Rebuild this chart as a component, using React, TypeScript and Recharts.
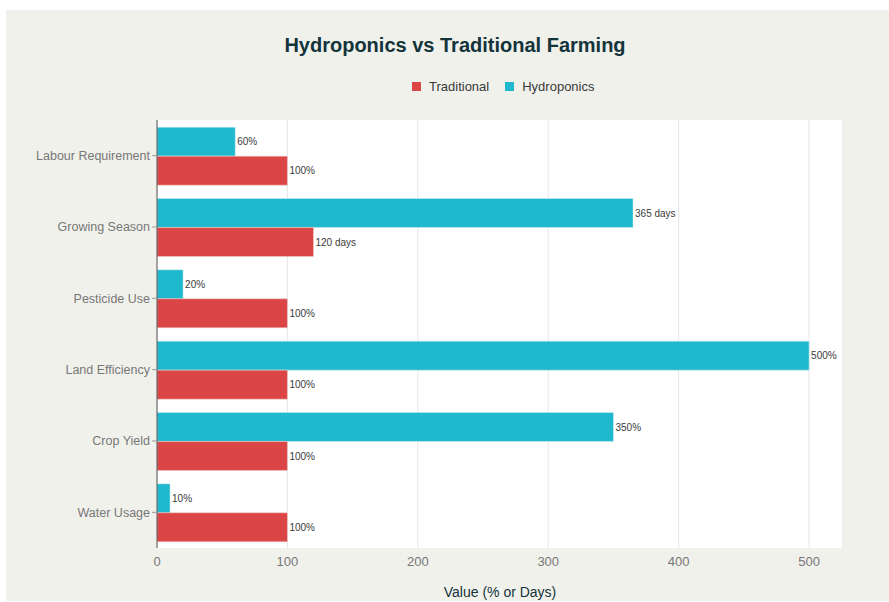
import { BarChart, Bar, XAxis, YAxis, CartesianGrid, LabelList } from 'recharts';

const categories = [
  'Labour Requirement',
  'Growing Season',
  'Pesticide Use',
  'Land Efficiency',
  'Crop Yield',
  'Water Usage',
];
const traditional = [100, 120, 100, 100, 100, 100];
const hydroponics = [60, 365, 20, 500, 350, 10];
const units = ['%', ' days', '%', '%', '%', '%'];
const xTicks = [0, 100, 200, 300, 400, 500];

const TRAD = '#DB4545';
const HYDRO = '#1FB8CD';
const FONT = '"Liberation Sans", Arial, sans-serif';

const data = categories.map((name, i) => ({
  name,
  Traditional: traditional[i],
  Hydroponics: hydroponics[i],
  tradLabel: `${traditional[i]}${units[i]}`,
  hydroLabel: `${hydroponics[i]}${units[i]}`,
}));

export default function App() {
  return (
    <div style={{ position: 'absolute', left: 0, top: 0, width: 889, height: 602, background: '#fff', fontFamily: FONT }}>
      <div style={{ position: 'absolute', left: 6, top: 10, width: 883, height: 591, background: '#f1f1ec' }} />
      <div
        style={{
          position: 'absolute', left: 0, top: 34, width: 910, textAlign: 'center',
          fontSize: 20, fontWeight: 'bold', color: '#13343B',
        }}
      >
        Hydroponics vs Traditional Farming
      </div>
      {/* legend */}
      <div style={{ position: 'absolute', left: 412, top: 79, display: 'flex', alignItems: 'center', fontSize: 13, color: '#3a3a3a' }}>
        <span style={{ width: 9, height: 9, background: TRAD, display: 'inline-block', marginRight: 8 }} />
        <span style={{ marginRight: 16 }}>Traditional</span>
        <span style={{ width: 9, height: 9, background: HYDRO, display: 'inline-block', marginRight: 8 }} />
        <span>Hydroponics</span>
      </div>
      <div style={{ position: 'absolute', left: 0, top: 0 }}>
        <BarChart
          width={889}
          height={602}
          data={data}
          layout="vertical"
          margin={{ top: 120, right: 46, bottom: 0, left: 0 }}
          barCategoryGap="10%"
          barGap={0}
        >
          <CartesianGrid horizontal={false} stroke="#e6e6e6" fill="#ffffff" />
          <XAxis
            type="number"
            domain={[0, 526]}
            ticks={xTicks}
            allowDataOverflow
            height={54}
            axisLine={false}
            tickLine={false}
            tickSize={0}
            tickMargin={9}
            tick={{ fill: '#777', fontSize: 13, fontFamily: FONT }}
            label={{
              value: 'Value (% or Days)',
              position: 'insideBottom',
              offset: 5,
              fill: '#13343B',
              fontSize: 14,
              fontFamily: FONT,
            }}
          />
          <YAxis
            type="category"
            dataKey="name"
            width={157}
            axisLine={{ stroke: '#555' }}
            tickLine={{ stroke: '#999' }}
            tickSize={5}
            tickMargin={2}
            tick={{ fill: '#777', fontSize: 12.5, fontFamily: FONT }}
          />
          <Bar dataKey="Hydroponics" fill={HYDRO} stroke="#d6eef2" strokeWidth={0.5} isAnimationActive={false}>
            <LabelList dataKey="hydroLabel" position="right" offset={2} fill="#3a3a3a" fontSize={10} fontFamily={FONT} />
          </Bar>
          <Bar dataKey="Traditional" fill={TRAD} stroke="#f0d5d5" strokeWidth={0.5} isAnimationActive={false}>
            <LabelList dataKey="tradLabel" position="right" offset={2} fill="#3a3a3a" fontSize={10} fontFamily={FONT} />
          </Bar>
        </BarChart>
      </div>
    </div>
  );
}
